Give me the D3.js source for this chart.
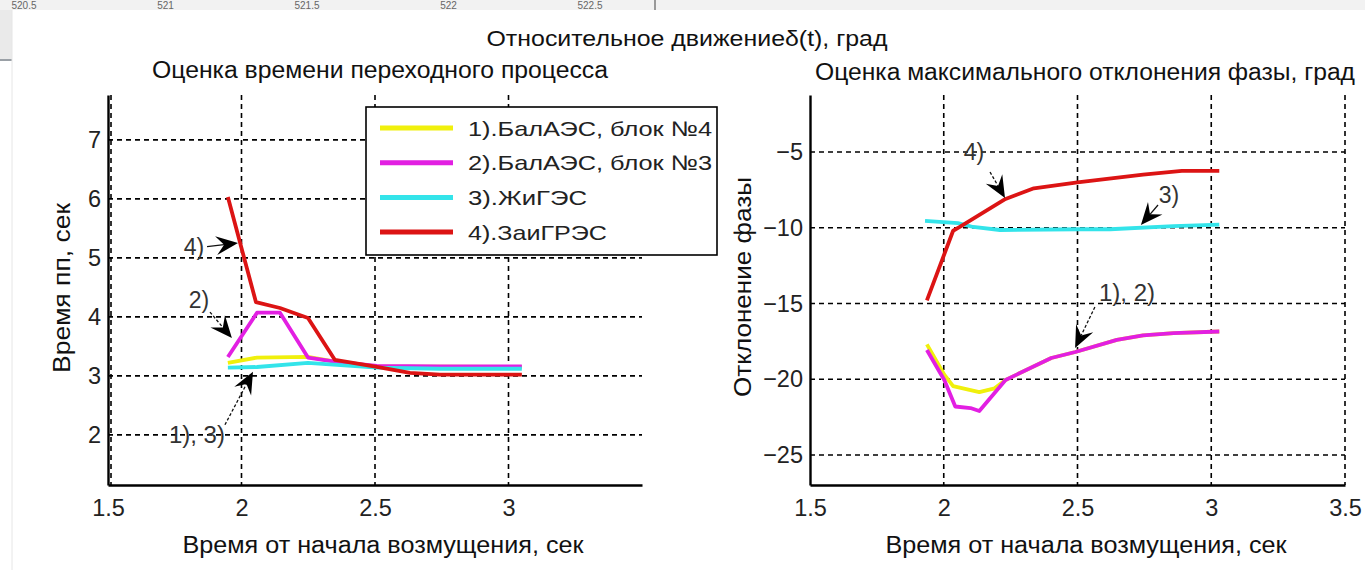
<!DOCTYPE html>
<html><head><meta charset="utf-8">
<script src="https://cdn.jsdelivr.net/npm/d3@7"></script>
<style>
body{margin:0;background:#fff;overflow:hidden}
text{font-family:"Liberation Sans",Arial,Helvetica,sans-serif}
</style></head>
<body><svg id="chart" width="1365" height="570"></svg>
<script>
// ---------- data ----------
const seriesNames  = ["1).БалАЭС, блок №4", "2).БалАЭС, блок №3", "3).ЖиГЭС", "4).ЗаиГРЭС"];
const seriesColors = ["#f0f00c", "#e21fe2", "#33e4ea", "#dc1414"];

// left plot: transient time, sec  [time from disturbance, value]
const tpBal4 = [[1.949,3.22],[2.058,3.31],[2.249,3.32],[2.35,3.24],[2.507,3.16],[3.05,3.15]];
const tpBal3 = [[1.949,3.32],[2.058,4.07],[2.144,4.07],[2.249,3.31],[2.35,3.24],[2.507,3.17],[2.743,3.16],[3.05,3.16]];
const tpZhi  = [[1.949,3.14],[2.058,3.15],[2.249,3.22],[2.507,3.14],[2.743,3.12],[3.05,3.12]];
const tpZai  = [[1.949,6.03],[2.054,4.25],[2.144,4.15],[2.249,3.98],[2.35,3.27],[2.507,3.15],[2.631,3.05],[2.743,3.02],[3.05,3.02]];

// right plot: max phase deviation, deg
const phBal4 = [[1.937,-17.7],[2.002,-19.7],[2.035,-20.45],[2.133,-20.85],[2.19,-20.6],[2.231,-20.05],[2.402,-18.6],[2.492,-18.2],[2.647,-17.4],[2.745,-17.1],[2.859,-16.95],[3.03,-16.85]];
const phBal3 = [[1.937,-18.07],[2.002,-20.05],[2.043,-21.8],[2.1,-21.9],[2.133,-22.1],[2.231,-20.05],[2.402,-18.6],[2.492,-18.2],[2.647,-17.4],[2.745,-17.1],[2.859,-16.95],[3.03,-16.85]];
const phZhi  = [[1.93,-9.55],[2.053,-9.7],[2.11,-9.95],[2.21,-10.15],[2.5,-10.1],[2.622,-10.1],[2.859,-9.9],[3.03,-9.8]];
const phZai  = [[1.937,-14.8],[2.035,-10.2],[2.06,-9.95],[2.231,-8.1],[2.337,-7.4],[2.5,-7.0],[2.745,-6.5],[2.89,-6.25],[3.03,-6.25]];

const xTicksLeft  = [1.5, 2, 2.5, 3];
const xTicksRight = [1.5, 2, 2.5, 3, 3.5];
const yTicksLeft  = [2, 3, 4, 5, 6, 7];
const yTicksRight = [-25, -20, -15, -10, -5];

const suptitle    = "Относительное движениеδ(t), град";
const titleLeft   = "Оценка времени переходного процесса";
const titleRight  = "Оценка максимального отклонения фазы, град";
const xLabel      = "Время от начала возмущения, сек";
const yLabelLeft  = "Время пп, сек";
const yLabelRight = "Отклонение фазы";

// annotations: [label, labelX, labelY, arrowFromX, arrowFromY, arrowToX, arrowToY, dashed]
const annLeft  = [["4)",1.822,5.19,1.871,5.19,1.987,5.25,false],
                  ["2)",1.841,4.29,1.882,4.08,1.964,3.64,true],
                  ["1), 3)",1.833,2.0,1.938,2.17,2.043,3.07,true]];
const annRight = [["4)",2.113,-5.0,2.173,-6.32,2.229,-8.04,true],
                  ["3)",2.842,-7.84,2.801,-8.5,2.737,-9.82,false],
                  ["1), 2)",2.685,-14.3,2.565,-15.23,2.491,-17.94,true]];

// background screenshot tick labels (top strip)
const bgTicks = ["520.5","521","521.5","522","522.5"];

// ---------- drawing ----------
const svg = d3.select("#chart");

// screenshot frame remnants
svg.append("rect").attr("x",0).attr("y",0).attr("width",1365).attr("height",10).attr("fill","#f2f2f2");
const bgX = d3.scalePoint().domain(bgTicks).range([24, 590]);
svg.selectAll(".bgt").data(bgTicks).enter().append("text")
  .attr("x", d=>bgX(d)).attr("y", 8.5).attr("text-anchor","middle")
  .attr("font-size",10).attr("fill","#666").text(d=>d);
svg.append("rect").attr("x",0).attr("y",10).attr("width",12).attr("height",50).attr("fill","#eaeaea");
svg.append("line").attr("x1",0).attr("x2",12).attr("y1",60).attr("y2",60).attr("stroke","#9aa0a6").attr("stroke-width",2);
svg.append("rect").attr("x",12).attr("y",10).attr("width",1353).attr("height",560).attr("fill","#fff");
svg.append("line").attr("x1",12).attr("x2",12).attr("y1",10).attr("y2",570).attr("stroke","#e6e6e6").attr("stroke-width",1);
svg.append("line").attr("x1",655).attr("x2",655).attr("y1",0).attr("y2",10).attr("stroke","#999").attr("stroke-width",2);

const plotTop = 95, plotBottom = 485;

function panel(opts){
  const g = svg.append("g");
  const x = d3.scaleLinear().domain([1.5,3.5]).range([opts.x0, opts.x1]);
  const y = d3.scaleLinear().domain(opts.yDomain).range([plotBottom, plotTop]);

  // grid
  g.selectAll(".gx").data(opts.xGrid).enter().append("line")
    .attr("x1",d=>x(d)+(d===1.5?3:0)).attr("x2",d=>x(d)+(d===1.5?3:0)).attr("y1",plotTop).attr("y2",plotBottom)
    .attr("stroke","#000").attr("stroke-width",1.6).attr("stroke-dasharray","5,4");
  g.selectAll(".gy").data(opts.yTicks).enter().append("line")
    .attr("x1",opts.x0).attr("x2",opts.x1).attr("y1",d=>y(d)).attr("y2",d=>y(d))
    .attr("stroke","#000").attr("stroke-width",1.6).attr("stroke-dasharray","5,4");

  // axes
  const ax = g.append("g").attr("transform",`translate(0,${plotBottom})`)
    .call(d3.axisBottom(x).tickValues(opts.xTicks).tickSize(0).tickPadding(14).tickFormat(d3.format("")));
  const ay = g.append("g").attr("transform",`translate(${opts.x0},0)`)
    .call(d3.axisLeft(y).tickValues(opts.yTicks).tickSize(0).tickPadding(7).tickFormat(d3.format("")));
  [ax, ay].forEach(a=>{
    a.select(".domain").attr("stroke","#000").attr("stroke-width",2.4);
    a.selectAll("text").attr("font-size",23.5).attr("fill","#222")
      .attr("font-family",'"Liberation Sans",Arial,sans-serif');
  });

  // lines
  const line = d3.line().x(d=>x(d[0])).y(d=>y(d[1]));
  opts.series.forEach((s,i)=>{
    g.append("path").datum(s).attr("d",line).attr("fill","none")
      .attr("stroke",seriesColors[i]).attr("stroke-width",3.8)
      .attr("stroke-linejoin","round");
  });

  // annotations
  opts.ann.forEach(a=>{
    const [lab,lx,ly,fx,fy,tx,ty,dashed] = a;
    const X1=x(fx),Y1=y(fy),X2=x(tx),Y2=y(ty);
    const ang = Math.atan2(Y2-Y1,X2-X1);
    const L=22, W=9.5, N=14;
    const bx = X2 - L*Math.cos(ang), by = Y2 - L*Math.sin(ang);
    const nx = X2 - N*Math.cos(ang), ny = Y2 - N*Math.sin(ang);
    g.append("line").attr("x1",X1).attr("y1",Y1).attr("x2",nx).attr("y2",ny)
      .attr("stroke","#111").attr("stroke-width",1.3)
      .attr("stroke-dasharray",dashed?"3,2":null);
    const pts = [[X2,Y2],[bx - W*Math.sin(ang), by + W*Math.cos(ang)],[nx,ny],[bx + W*Math.sin(ang), by - W*Math.cos(ang)]];
    g.append("polygon").attr("points",pts.map(p=>p.join(",")).join(" ")).attr("fill","#000");
    const t = g.append("text").attr("x",x(lx)).attr("y",y(ly)).attr("text-anchor","middle")
      .attr("dy","0.35em").attr("font-size",23).attr("fill","#333").text(lab);
    if (lab.length > 3) t.attr("textLength",56).attr("lengthAdjust","spacingAndGlyphs");
  });

  // titles & labels
  g.append("text").attr("x",opts.titleX).attr("y",opts.titleY).attr("text-anchor","middle")
    .attr("font-size",23).attr("fill","#111").attr("textLength",opts.titleLen)
    .attr("lengthAdjust","spacingAndGlyphs").text(opts.title);
  g.append("text").attr("x",opts.xlX).attr("y",553).attr("text-anchor","middle")
    .attr("font-size",23).attr("fill","#111").attr("textLength",401)
    .attr("lengthAdjust","spacingAndGlyphs").text(xLabel);
  g.append("text").attr("transform",`translate(${opts.ylX},${opts.ylY}) rotate(-90)`)
    .attr("text-anchor","middle").attr("dy","0.35em")
    .attr("font-size",23).attr("fill","#111").attr("textLength",opts.ylLen)
    .attr("lengthAdjust","spacingAndGlyphs").text(opts.yl);
  return {x,y,g};
}

panel({x0:108,x1:642,yDomain:[1.15,7.76],yTicks:yTicksLeft,xTicks:xTicksLeft,xGrid:[1.5,2,2.5,3],
  series:[tpBal4,tpBal3,tpZhi,tpZai],ann:annLeft,
  title:titleLeft,titleX:380,titleY:78,titleLen:456,xlX:383,
  yl:yLabelLeft,ylX:62,ylY:288,ylLen:170});

panel({x0:810,x1:1345,yDomain:[-26.98,-1.24],yTicks:yTicksRight,xTicks:xTicksRight,xGrid:[2,2.5,3,3.5],
  series:[phBal4,phBal3,phZhi,phZai],ann:annRight,
  title:titleRight,titleX:1085,titleY:80,titleLen:540,xlX:1086,
  yl:yLabelRight,ylX:743,ylY:287,ylLen:220});

// suptitle
svg.append("text").attr("x",687).attr("y",46).attr("text-anchor","middle")
  .attr("font-size",22).attr("fill","#111").attr("textLength",401)
  .attr("lengthAdjust","spacingAndGlyphs").text(suptitle);

// legend
const leg = svg.append("g");
leg.append("rect").attr("x",366).attr("y",107).attr("width",351).attr("height",148)
  .attr("fill","#fff").attr("stroke","#000").attr("stroke-width",1.6);
const legLens = [244,244,119,139];
seriesNames.forEach((n,i)=>{
  const yy = 128 + i*34.7;
  leg.append("line").attr("x1",380).attr("x2",453).attr("y1",yy).attr("y2",yy)
    .attr("stroke",seriesColors[i]).attr("stroke-width",5);
  leg.append("text").attr("x",468).attr("y",yy).attr("dy","0.36em")
    .attr("font-size",21).attr("fill","#222").attr("textLength",legLens[i])
    .attr("lengthAdjust","spacingAndGlyphs").text(n);
});
</script></body></html>
